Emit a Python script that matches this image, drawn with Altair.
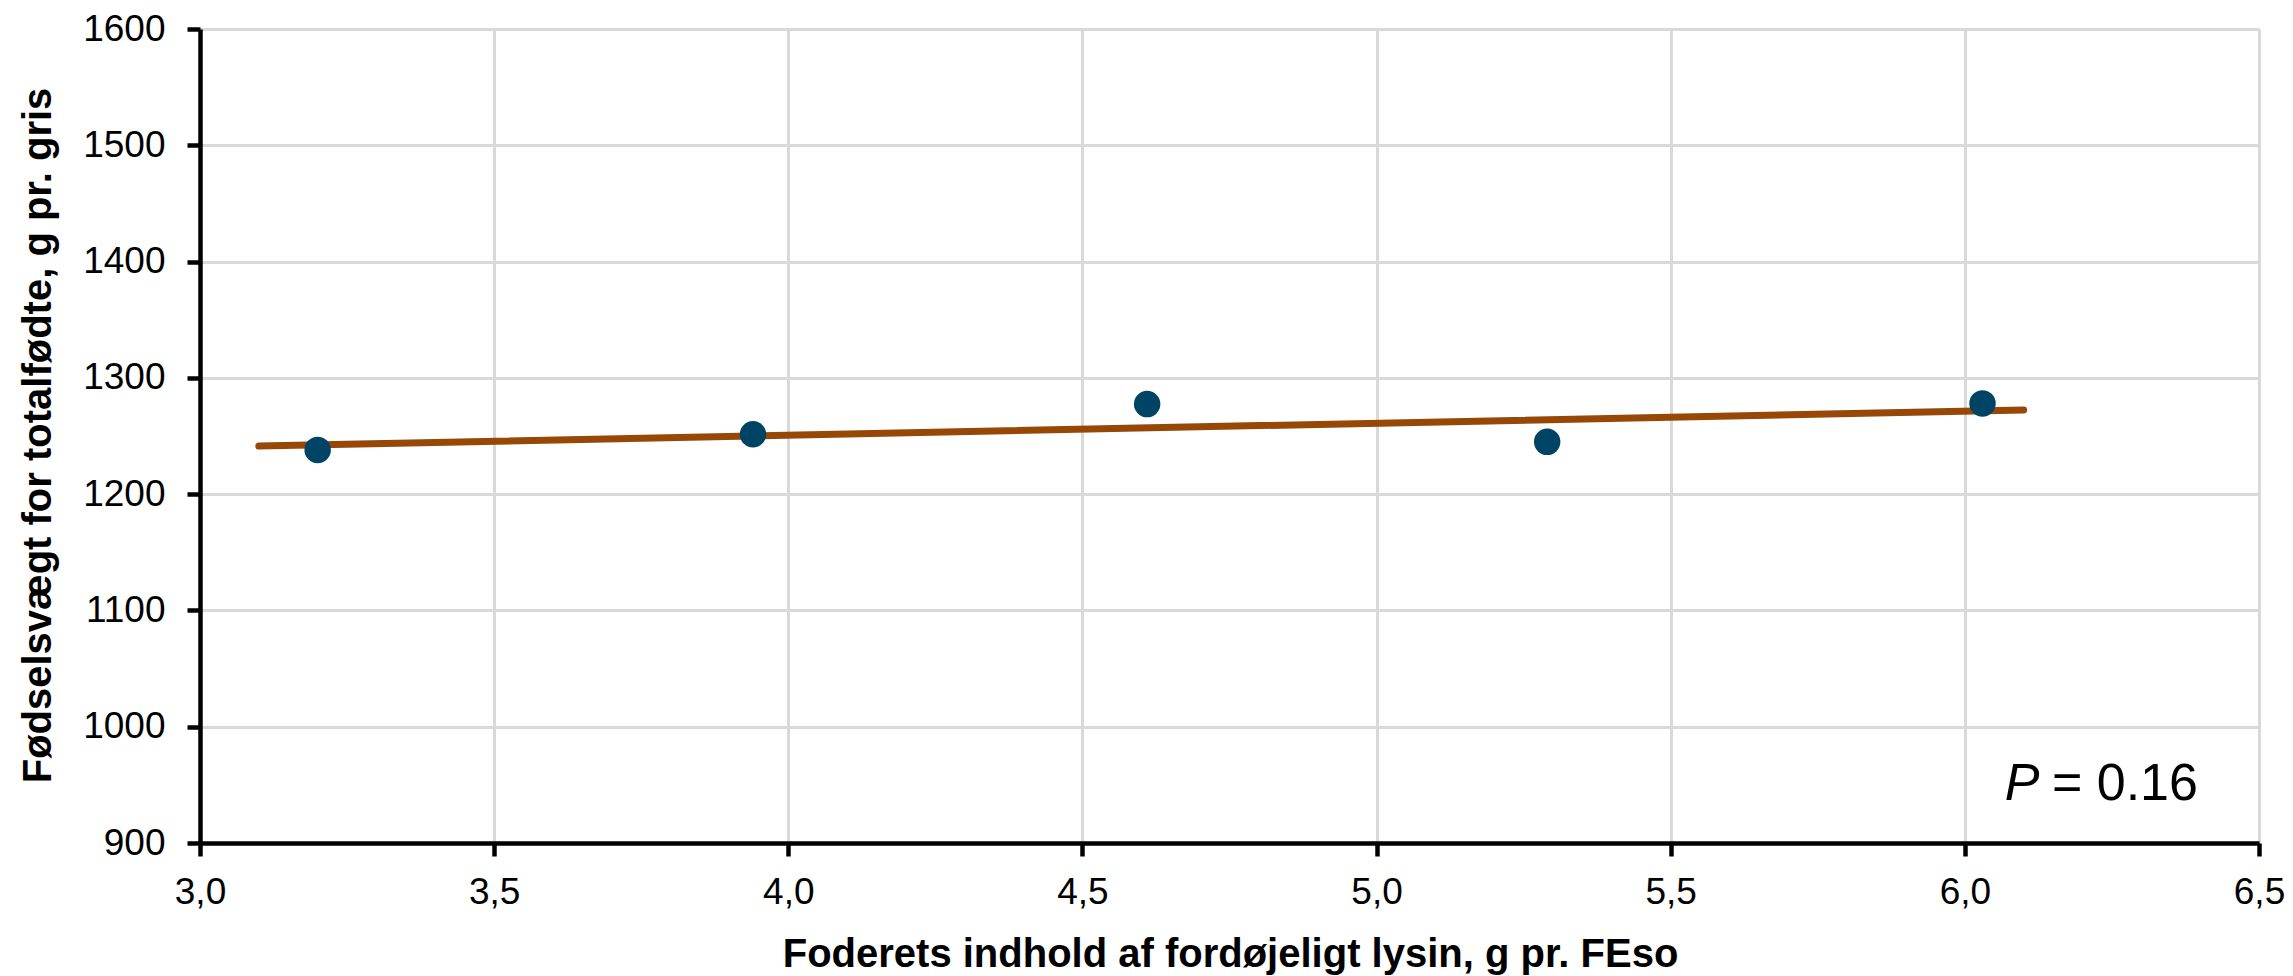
import altair as alt
import pandas as pd

# ---- data ----
lysin = [3.20, 3.94, 4.61, 5.29, 6.03]
vaegt = [1238.0, 1251.5, 1277.5, 1245.0, 1278.0]
trend_x = [3.10, 6.10]
trend_y = [1241.3, 1272.4]
x_ticks = [3.0, 3.5, 4.0, 4.5, 5.0, 5.5, 6.0, 6.5]
y_ticks = [900, 1000, 1100, 1200, 1300, 1400, 1500, 1600]
x_title = "Foderets indhold af fordøjeligt lysin, g pr. FEso"
y_title = "Fødselsvægt for totalfødte, g pr. gris"
p_italic = ["P"]
p_rest = ["= 0.16"]
p_x = [6.068, 6.148]
p_y = [937, 937]

FONT = "Liberation Sans"

pts = pd.DataFrame({"x": lysin, "y": vaegt})
trend = pd.DataFrame({"x": trend_x, "y": trend_y})
ann1 = pd.DataFrame({"x": [p_x[0]], "y": [p_y[0]], "t": p_italic})
ann2 = pd.DataFrame({"x": [p_x[1]], "y": [p_y[1]], "t": p_rest})

x_enc = alt.X(
    "x:Q",
    scale=alt.Scale(domain=[3.0, 6.5], nice=False, zero=False),
    axis=alt.Axis(
        values=x_ticks,
        labelExpr="replace(format(datum.value, '.1f'), '.', ',')",
        title=x_title,
        labelFontSize=37,
        labelPadding=18,
        titleX=1030,
        titleY=123,
        titleBaseline="alphabetic",
        titleAlign="center",
    ),
)
y_enc = alt.Y(
    "y:Q",
    scale=alt.Scale(domain=[900, 1600], nice=False, zero=False),
    axis=alt.Axis(
        values=y_ticks,
        format="d",
        title=y_title,
        labelFontSize=37,
        labelPadding=22,
        titleX=-150,
        titleY=406,
        titleBaseline="alphabetic",
        titleAlign="center",
    ),
)

line = alt.Chart(trend).mark_line(
    color="#974706", strokeWidth=7, strokeCap="round"
).encode(x=x_enc, y=y_enc)

points = alt.Chart(pts).mark_circle(
    color="#004465", opacity=1, size=700
).encode(x=x_enc, y=y_enc)

t1 = alt.Chart(ann1).mark_text(
    align="left", baseline="alphabetic", fontSize=52, font=FONT,
    fontStyle="italic", color="black"
).encode(x=x_enc, y=y_enc, text="t:N")

t2 = alt.Chart(ann2).mark_text(
    align="left", baseline="alphabetic", fontSize=52, font=FONT, color="black"
).encode(x=x_enc, y=y_enc, text="t:N")

chart = (
    alt.layer(line, points, t1, t2)
    .properties(
        width=2059,
        height=814,
        autosize=alt.AutoSizeParams(type="none"),
        padding={"left": 200, "top": 29, "right": 34, "bottom": 133},
        background="white",
    )
    .configure_view(stroke=None)
    .configure_axis(
        labelFont=FONT,
        titleFont=FONT,
        labelColor="black",
        titleColor="black",
        titleFontSize=40,
        titleFontWeight="bold",
        domainColor="black",
        domainWidth=4.5,
        tickColor="black",
        tickWidth=4.5,
        tickSize=13,
        grid=True,
        gridColor="#d9d9d9",
        gridWidth=3,
        labelFlush=False,
        labelOverlap=False,
    )
)

chart.save("out.html", embed_options={"renderer": "svg", "actions": False})
